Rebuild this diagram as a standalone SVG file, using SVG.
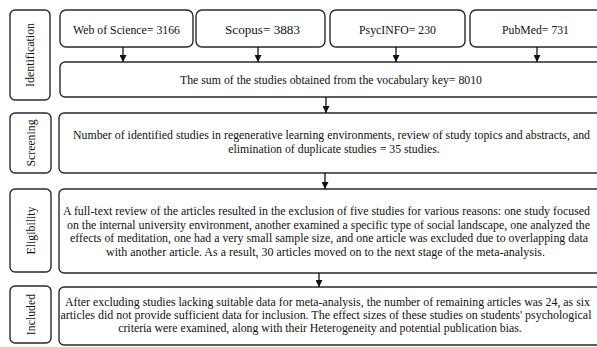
<svg xmlns="http://www.w3.org/2000/svg" width="597" height="347" viewBox="0 0 597 347">
<defs>
<style>
.box{fill:#fff;stroke:#2a2a2a;stroke-width:1.4}
.t{font-family:"Liberation Serif","Times New Roman",serif;font-size:11.8px;fill:#111}
.c{text-anchor:middle}
.con{stroke:#111;stroke-width:1.3;fill:none}
</style>
<marker id="ah" viewBox="0 0 10 10" refX="10" refY="5" markerWidth="7" markerHeight="7" markerUnits="userSpaceOnUse" orient="auto">
<path d="M0,0 L10,5 L0,10 z" fill="#111"/>
</marker>
</defs>
<rect width="597" height="347" fill="#fff"/>
<g id="label-identification"><rect class="box" x="10" y="10" width="40" height="90" rx="5"/><text class="t c" transform="translate(33.5,55) rotate(-90)" textLength="64" lengthAdjust="spacingAndGlyphs">Identification</text></g>
<g id="label-screening"><rect class="box" x="10" y="113" width="41" height="60" rx="5"/><text class="t c" transform="translate(34.5,143) rotate(-90)">Screening</text></g>
<g id="label-eligibility"><rect class="box" x="10" y="189" width="41" height="83" rx="5"/><text class="t c" transform="translate(34.5,230.5) rotate(-90)">Eligibility</text></g>
<g id="label-included"><rect class="box" x="10" y="286" width="41" height="57" rx="5"/><text class="t c" transform="translate(34.5,314.5) rotate(-90)">Included</text></g>
<g id="wos"><rect class="box" x="60" y="10" width="133" height="37" rx="6"/><text class="t c" x="126.5" y="34" textLength="107" lengthAdjust="spacingAndGlyphs">Web of Science= 3166</text></g>
<g id="scopus"><rect class="box" x="196" y="10" width="129" height="37" rx="6"/><text class="t c" x="262.5" y="34" style="font-size:13.5px" textLength="75" lengthAdjust="spacingAndGlyphs">Scopus= 3883</text></g>
<g id="psycinfo"><rect class="box" x="330" y="10" width="135" height="37" rx="6"/><text class="t c" x="397.5" y="34" textLength="77" lengthAdjust="spacingAndGlyphs">PsycINFO= 230</text></g>
<g id="pubmed"><rect class="box" x="470" y="10" width="140" height="37" rx="6"/><text class="t c" x="535.5" y="34" textLength="67" lengthAdjust="spacingAndGlyphs">PubMed= 731</text></g>
<g id="sum"><rect class="box" x="60" y="62" width="550" height="35" rx="5"/><text class="t c" x="331" y="84" textLength="302" lengthAdjust="spacingAndGlyphs">The sum of the studies obtained from the vocabulary key= 8010</text></g>
<g id="screening"><rect class="box" x="59" y="113" width="551" height="60" rx="5"/>
<text class="t c" x="331.5" y="139" textLength="517" lengthAdjust="spacingAndGlyphs">Number of identified studies in regenerative learning environments, review of study topics and abstracts, and</text>
<text class="t c" x="334" y="153">elimination of duplicate studies = 35 studies.</text></g>
<g id="eligibility"><rect class="box" x="59" y="189" width="551" height="84" rx="5"/>
<text class="t c" x="326.5" y="215" textLength="527" lengthAdjust="spacingAndGlyphs">A full-text review of the articles resulted in the exclusion of five studies for various reasons: one study focused</text>
<text class="t c" x="328.5" y="229" textLength="523" lengthAdjust="spacingAndGlyphs">on the internal university environment, another examined a specific type of social landscape, one analyzed the</text>
<text class="t c" x="329" y="242" textLength="518" lengthAdjust="spacingAndGlyphs">effects of meditation, one had a very small sample size, and one article was excluded due to overlapping data</text>
<text class="t c" x="325.5" y="256" textLength="439" lengthAdjust="spacingAndGlyphs">with another article. As a result, 30 articles moved on to the next stage of the meta-analysis.</text></g>
<g id="included"><rect class="box" x="59" y="287" width="551" height="58" rx="5"/>
<text class="t c" x="327.5" y="306" textLength="525" lengthAdjust="spacingAndGlyphs">After excluding studies lacking suitable data for meta-analysis, the number of remaining articles was 24, as six</text>
<text class="t c" x="326" y="319" textLength="531" lengthAdjust="spacingAndGlyphs">articles did not provide sufficient data for inclusion. The effect sizes of these studies on students' psychological</text>
<text class="t c" x="320" y="332">criteria were examined, along with their Heterogeneity and potential publication bias.</text></g>
<g id="connectors">
<line class="con" x1="123" y1="47" x2="123" y2="62" marker-end="url(#ah)"/>
<line class="con" x1="258" y1="47" x2="258" y2="62" marker-end="url(#ah)"/>
<line class="con" x1="396" y1="47" x2="396" y2="62" marker-end="url(#ah)"/>
<line class="con" x1="537" y1="47" x2="537" y2="62" marker-end="url(#ah)"/>
<line class="con" x1="326" y1="97" x2="326" y2="113" marker-end="url(#ah)"/>
<line class="con" x1="325" y1="173" x2="325" y2="189" marker-end="url(#ah)"/>
<line class="con" x1="319" y1="273" x2="319" y2="287" marker-end="url(#ah)"/>
</g>
</svg>
